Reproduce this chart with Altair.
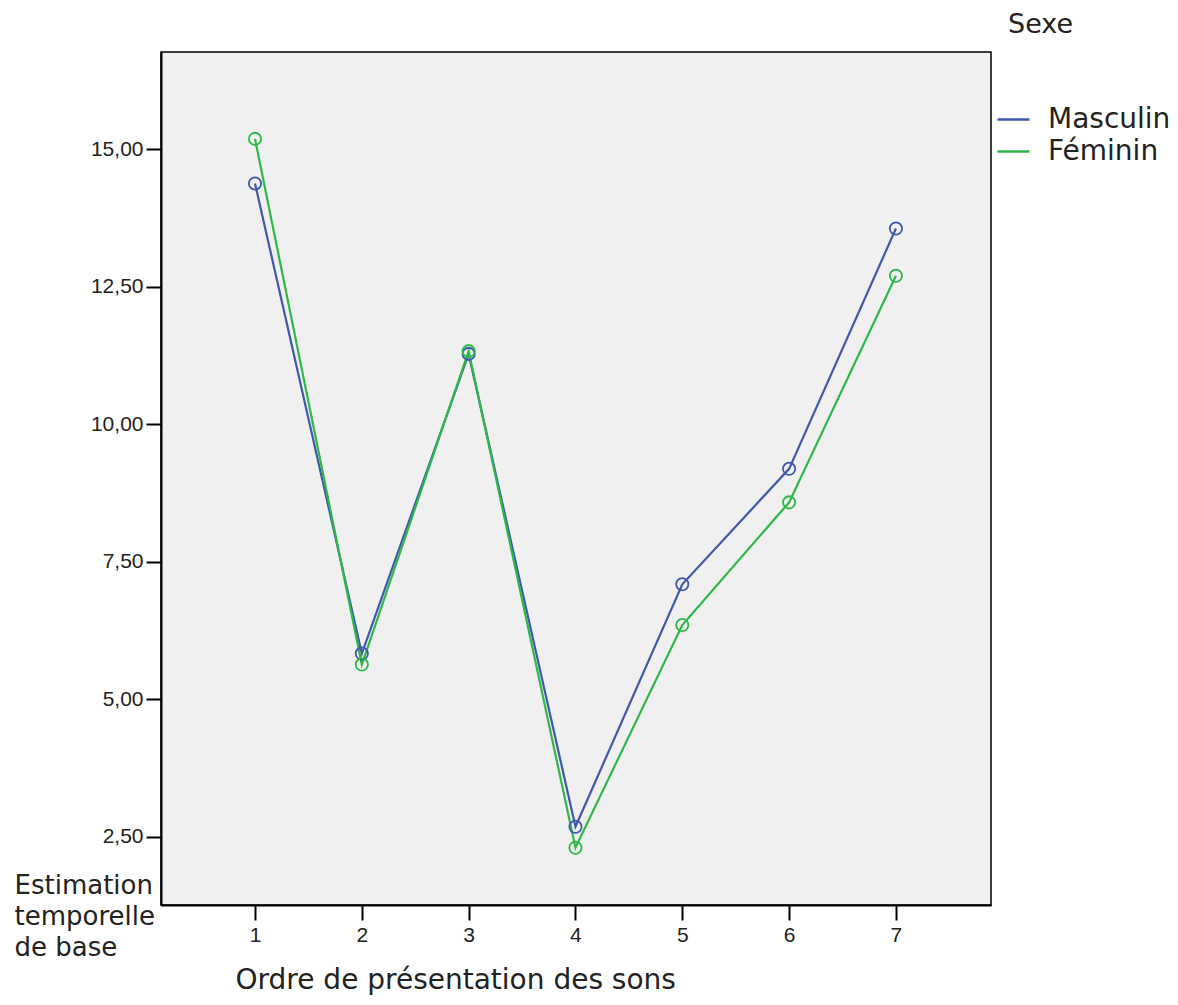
import altair as alt
import pandas as pd

ordre = [1, 2, 3, 4, 5, 6, 7]
masculin = [14.38, 5.83, 11.28, 2.68, 7.09, 9.19, 13.56]
feminin = [15.19, 5.63, 11.33, 2.30, 6.35, 8.58, 12.70]
sexes = ["Masculin", "Féminin"]
colors = ["#3E58AC", "#2EB848"]
y_ticks = [2.5, 5.0, 7.5, 10.0, 12.5, 15.0]

rows = []
for s, vals in zip(sexes, [masculin, feminin]):
    for o, v in zip(ordre, vals):
        rows.append({"Ordre": o, "Estimation": v, "Sexe": s})
df = pd.DataFrame(rows)

x = alt.X(
    "Ordre:Q",
    scale=alt.Scale(domain=[0.12, 7.89], nice=False, zero=False),
    axis=alt.Axis(
        values=ordre, grid=False, format="d",
        title="Ordre de présentation des sons",
        titleX=74, titleY=83, titleAlign="left", titleBaseline="alphabetic",
        titleAnchor="start",
        tickSize=15, labelPadding=4,
    ),
)
y = alt.Y(
    "Estimation:Q",
    scale=alt.Scale(domain=[1.258, 16.77], nice=False, zero=False),
    axis=alt.Axis(
        values=y_ticks, grid=False,
        labelExpr="replace(format(datum.value, '.2f'), '.', ',')",
        title=["Estimation", "temporelle", "de base"],
        titleAngle=0, titleX=-147, titleY=841, titleAlign="left",
        titleBaseline="alphabetic", titleLineHeight=31, titleFontSize=26,
        tickSize=15, labelPadding=3,
    ),
)
color = alt.Color(
    "Sexe:N",
    scale=alt.Scale(domain=sexes, range=colors),
    sort=sexes,
    legend=alt.Legend(
        title=None, orient="none", legendX=835, legendY=50,
        symbolType="stroke", symbolSize=1024, symbolStrokeWidth=2.5,
        labelFontSize=28, labelFont="DejaVu Sans", labelColor="#222222",
        labelOffset=17, rowPadding=0, padding=0,
    ),
)

base = alt.Chart(df).encode(x=x, y=y, color=color, detail="Sexe:N")
lines = base.mark_line(strokeWidth=2.2)
points = base.mark_point(filled=False, size=150, strokeWidth=1.8, opacity=1)

chart = (
    alt.layer(lines, points)
    .properties(
        width=830,
        height=853,
        autosize=alt.AutoSizeParams(type="none"),
        padding={"left": 153, "top": 44, "right": 179, "bottom": 90},
        background="white",
        title=alt.TitleParams(
            "Sexe", anchor="start", frame="group", dx=847, dy=27, offset=19,
            baseline="alphabetic", fontSize=27, font="DejaVu Sans",
            fontWeight="normal", color="#222222",
        ),
    )
    .configure_view(fill="#F0F0F0", stroke="black", strokeWidth=1.5)
    .configure_axis(
        domainColor="black", domainWidth=2, tickColor="black", tickWidth=2,
        labelFont="Liberation Sans", labelFontSize=21, labelColor="#222222",
        titleFont="DejaVu Sans", titleFontSize=28, titleFontWeight="normal",
        titleColor="#222222",
    )
)

chart.save("out.html", embed_options={"renderer": "svg", "actions": False})
